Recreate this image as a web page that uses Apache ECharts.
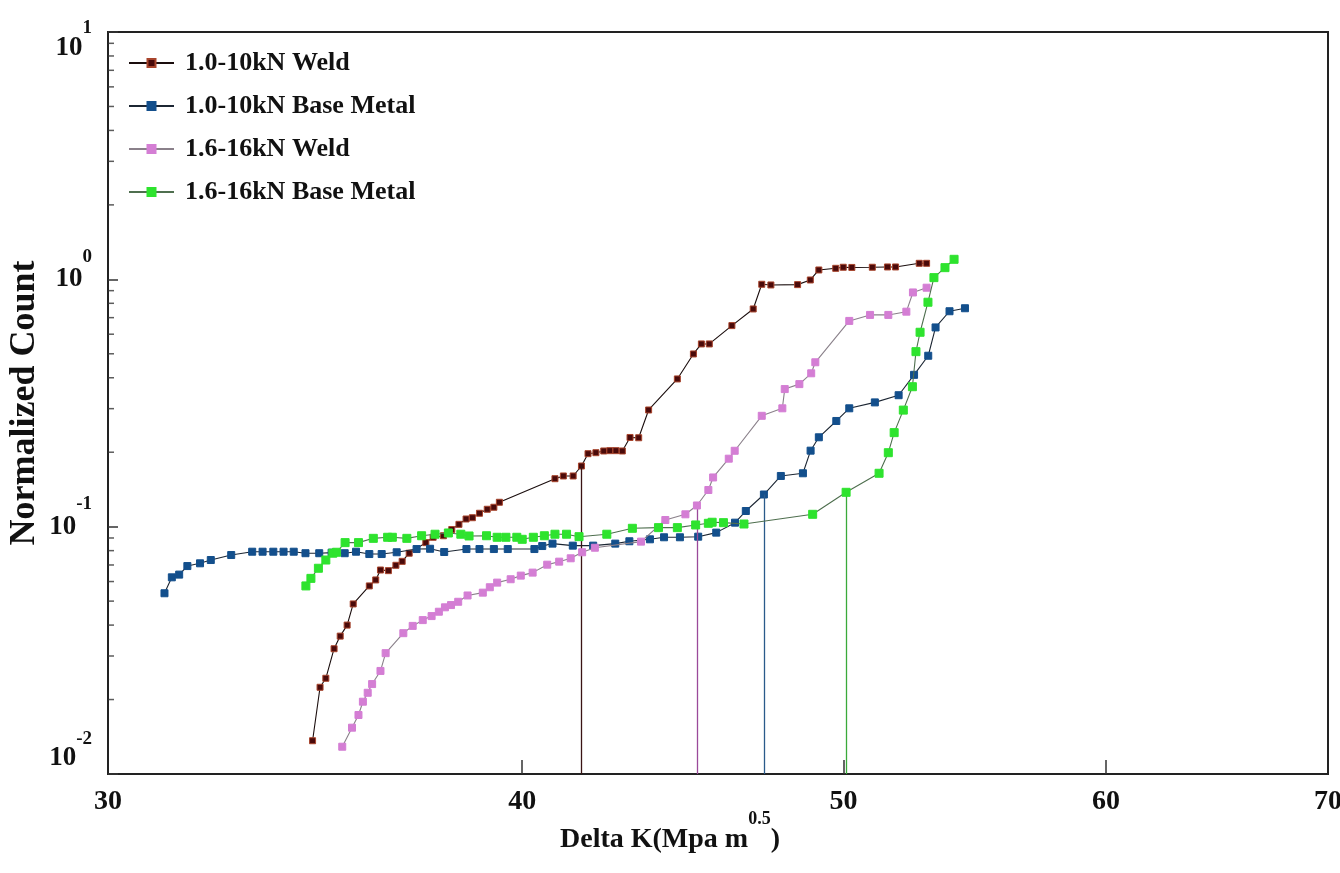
<!DOCTYPE html>
<html><head><meta charset="utf-8">
<script src="https://cdn.jsdelivr.net/npm/echarts@6/dist/echarts.min.js"></script>
<style>html,body{margin:0;padding:0;background:#fff}#c{width:1340px;height:873px}</style>
</head><body><div id="c"></div>
<script>
const seriesNames = ['1.0-10kN Weld', '1.0-10kN Base Metal', '1.6-16kN Weld', '1.6-16kN Base Metal'];

const weld10X = [34.58,34.76,34.90,35.10,35.25,35.42,35.57,35.97,36.13,36.25,36.45,36.64,36.80,36.98,37.41,37.60,37.87,38.09,38.28,38.47,38.64,38.83,39.04,39.22,39.37,40.92,41.16,41.44,41.68,41.87,42.10,42.33,42.51,42.69,42.88,43.11,43.37,43.67,44.55,45.05,45.30,45.55,46.27,46.96,47.24,47.54,48.43,48.86,49.15,49.73,49.99,50.29,51.01,51.55,51.84,52.70,52.97];
const weld10Y = [0.01363,0.02242,0.02438,0.0321,0.0361,0.0400,0.0487,0.0576,0.0609,0.0668,0.0664,0.0698,0.0724,0.0781,0.0862,0.0906,0.0919,0.0974,0.1022,0.1074,0.1087,0.1133,0.1176,0.1198,0.1255,0.1563,0.1603,0.1603,0.1759,0.1973,0.1991,0.2023,0.2029,0.2029,0.2023,0.2294,0.2288,0.2963,0.3956,0.4992,0.548,0.548,0.650,0.759,0.955,0.949,0.952,0.994,1.091,1.108,1.119,1.117,1.119,1.122,1.122,1.161,1.161];

const base10X = [31.20,31.36,31.52,31.70,31.98,32.22,32.68,33.16,33.40,33.65,33.89,34.13,34.41,34.74,35.04,35.36,35.64,35.97,36.28,36.66,37.17,37.52,37.89,38.48,38.83,39.22,39.60,40.34,40.56,40.85,41.43,42.02,42.67,43.09,43.71,44.14,44.63,45.20,45.77,46.37,46.72,47.31,47.87,48.61,48.87,49.15,49.75,50.20,51.10,51.95,52.51,53.03,53.30,53.82,54.40];
const base10Y = [0.0538,0.0624,0.0640,0.0693,0.0711,0.0733,0.0768,0.0792,0.0792,0.0792,0.0792,0.0792,0.0781,0.0781,0.0785,0.0781,0.0792,0.0775,0.0775,0.0788,0.0812,0.0814,0.0790,0.0812,0.0812,0.0812,0.0812,0.0812,0.0835,0.0854,0.0838,0.0838,0.0854,0.0873,0.0889,0.0906,0.0906,0.0911,0.0946,0.1038,0.1157,0.1349,0.1603,0.1644,0.2029,0.2298,0.2675,0.301,0.318,0.340,0.411,0.491,0.639,0.743,0.764];

const weld16X = [35.30,35.54,35.70,35.81,35.93,36.04,36.25,36.38,36.83,37.07,37.33,37.56,37.75,37.91,38.07,38.26,38.51,38.92,39.11,39.31,39.68,39.96,40.29,40.70,41.04,41.37,41.70,42.07,43.44,44.18,44.80,45.16,45.52,45.67,46.17,46.36,47.24,47.92,48.00,48.49,48.89,49.03,50.20,50.93,51.58,52.23,52.47,52.97];
const weld16Y = [0.01289,0.01539,0.01732,0.0196,0.0213,0.0231,0.0261,0.0308,0.0371,0.0397,0.0419,0.0435,0.0453,0.0472,0.0482,0.0497,0.0527,0.0541,0.0569,0.0594,0.0613,0.0634,0.0652,0.0702,0.0722,0.0745,0.0788,0.0822,0.0870,0.1064,0.1122,0.1218,0.1407,0.1581,0.1883,0.2027,0.2807,0.301,0.360,0.377,0.417,0.462,0.679,0.718,0.718,0.740,0.885,0.925];

const base16X = [34.42,34.54,34.72,34.90,35.07,35.16,35.37,35.70,36.07,36.43,36.55,36.92,37.30,37.65,38.00,38.33,38.55,39.02,39.31,39.55,39.85,40.00,40.31,40.62,40.92,41.25,41.61,42.42,43.18,43.97,44.55,45.12,45.52,45.64,46.00,46.66,48.94,50.09,51.25,51.58,51.79,52.12,52.45,52.58,52.73,53.02,53.24,53.65,53.99];
const base16Y = [0.0576,0.0618,0.0679,0.0733,0.0781,0.0788,0.0862,0.0862,0.0897,0.0906,0.0906,0.0897,0.0919,0.0932,0.0943,0.0932,0.0917,0.0919,0.0906,0.0906,0.0906,0.0889,0.0906,0.0919,0.0932,0.0932,0.0911,0.0932,0.0985,0.0991,0.0991,0.1016,0.1032,0.1042,0.1038,0.1025,0.1122,0.1377,0.1644,0.1991,0.240,0.296,0.368,0.510,0.611,0.808,1.016,1.115,1.205];

// vertical drop lines (one per series, same order as seriesNames)
const dropX = [41.68, 47.31, 45.16, 50.09];
const dropY = [0.1759, 0.1349, 0.1218, 0.1377];

const xLabelValues = [30, 40, 50, 60, 70];
const xTickValues = [40, 50, 60];
const yMinorValues = [0.02,0.03,0.04,0.05,0.06,0.07,0.08,0.09,0.2,0.3,0.4,0.5,0.6,0.7,0.8,0.9,2,3,4,5,6,7,8,9];

const FONT = '"Liberation Serif", "Times New Roman", serif';
const zip = (xs, ys) => xs.map((x, i) => [x, ys[i]]);

const styles = [
  {sym: '#4a0a0a', border: '#a8442c', line: '#1a0d0d', drop: '#3a1414', size: 6},
  {sym: '#134f8c', border: '#134f8c', line: '#1c2633', drop: '#2a5a8a', size: 7},
  {sym: '#d47ed4', border: '#d47ed4', line: '#8a808a', drop: '#9a4a9a', size: 7},
  {sym: '#2ee32e', border: '#2ee32e', line: '#4f6f4f', drop: '#3aaa3a', size: 8}
];
const datasets = [zip(weld10X, weld10Y), zip(base10X, base10Y), zip(weld16X, weld16Y), zip(base16X, base16Y)];

const series = datasets.map((d, i) => ({
  name: seriesNames[i],
  type: 'line',
  data: d,
  symbol: 'rect',
  symbolSize: styles[i].size,
  showSymbol: true,
  itemStyle: {color: styles[i].sym, borderColor: styles[i].border, borderWidth: 1},
  lineStyle: {color: styles[i].line, width: 1.1},
  markLine: {
    silent: true,
    symbol: ['none', 'none'],
    label: {show: false},
    lineStyle: {color: styles[i].drop, width: 1.3, type: 'solid'},
    data: [[{coord: [dropX[i], dropY[i]]}, {coord: [dropX[i], 0.01]}]]
  },
  z: 3 + i
}));

series.push({
  name: 'minor',
  type: 'scatter',
  data: yMinorValues.map(v => [30, v]),
  symbol: 'rect',
  symbolSize: [6, 1.5],
  symbolOffset: [3, 0],
  itemStyle: {color: '#333'},
  silent: true,
  clip: false,
  z: 10
});

const base = {fontFamily: FONT, fontWeight: 'bold', color: '#111'};
function yLabel(v) {
  const e = Math.round(Math.log10(v));
  if (e >= 1) return '{bh|10}{eh|' + e + '}{sh|\u200b}';
  if (e <= -2) return '{bl|10}{el|' + e + '}{sl|\u200b}';
  return '{b|10}{e|' + e + '}';
}

const chart = echarts.init(document.getElementById('c'));
chart.setOption({
  animation: false,
  backgroundColor: '#fff',
  grid: {left: 108, right: 12, top: 32, bottom: 99, containLabel: false, outerBoundsMode: 'none',
         show: true, borderColor: '#222', borderWidth: 2, backgroundColor: 'transparent'},
  legend: {
    data: seriesNames,
    orient: 'vertical',
    left: 123,
    top: 43,
    itemWidth: 45,
    itemHeight: 10,
    itemGap: 13,
    textStyle: {fontFamily: FONT, fontWeight: 'bold', fontSize: 26, color: '#111', lineHeight: 30, padding: [0, 0, 0, 6]}
  },
  xAxis: {
    type: 'log',
    min: 30,
    max: 70,
    logBase: 10,
    name: '{a|Delta K(Mpa m}{s|0.5}{a|)}',
    nameLocation: 'middle',
    nameGap: 36,
    nameMoveOverlap: false,
    nameTextStyle: {
      padding: [0, 96, 0, 0],
      rich: {
        a: Object.assign({fontSize: 28, lineHeight: 60}, base),
        s: Object.assign({fontSize: 18, lineHeight: 16, verticalAlign: 'top'}, base)
      }
    },
    axisLine: {show: true, lineStyle: {color: '#222', width: 2}},
    axisTick: {show: true, inside: true, length: 14, lineStyle: {color: '#333', width: 1.5}, customValues: xTickValues},
    axisLabel: Object.assign({show: true, customValues: xLabelValues, margin: 14, fontSize: 28, formatter: v => String(Math.round(v))}, base),
    splitLine: {show: false},
    minorTick: {show: false}
  },
  yAxis: {
    type: 'log',
    min: 0.01,
    max: 10,
    logBase: 10,
    name: 'Normalized Count',
    nameLocation: 'middle',
    nameGap: 65,
    nameMoveOverlap: false,
    nameTextStyle: {fontFamily: FONT, fontWeight: 'bold', fontSize: 36, color: '#111'},
    axisLine: {show: true, lineStyle: {color: '#222', width: 2}},
    axisTick: {show: true, inside: true, length: 10, lineStyle: {color: '#333', width: 1.5}},
    axisLabel: {
      margin: 16,
      formatter: yLabel,
      rich: {
        b: Object.assign({fontSize: 27, lineHeight: 64}, base),
        e: Object.assign({fontSize: 19, lineHeight: 16, verticalAlign: 'top'}, base),
        bh: Object.assign({fontSize: 27, lineHeight: 30, verticalAlign: 'bottom'}, base),
        eh: Object.assign({fontSize: 19, lineHeight: 16, verticalAlign: 'top', padding: [17, 0, 0, 0]}, base),
        sh: Object.assign({fontSize: 10, lineHeight: 60}, base),
        bl: Object.assign({fontSize: 27, lineHeight: 30, verticalAlign: 'top', padding: [15, 0, 0, 0]}, base),
        el: Object.assign({fontSize: 19, lineHeight: 16, verticalAlign: 'top'}, base),
        sl: Object.assign({fontSize: 10, lineHeight: 88}, base)
      }
    },
    splitLine: {show: false}
  },
  series: series
});
</script></body></html>
